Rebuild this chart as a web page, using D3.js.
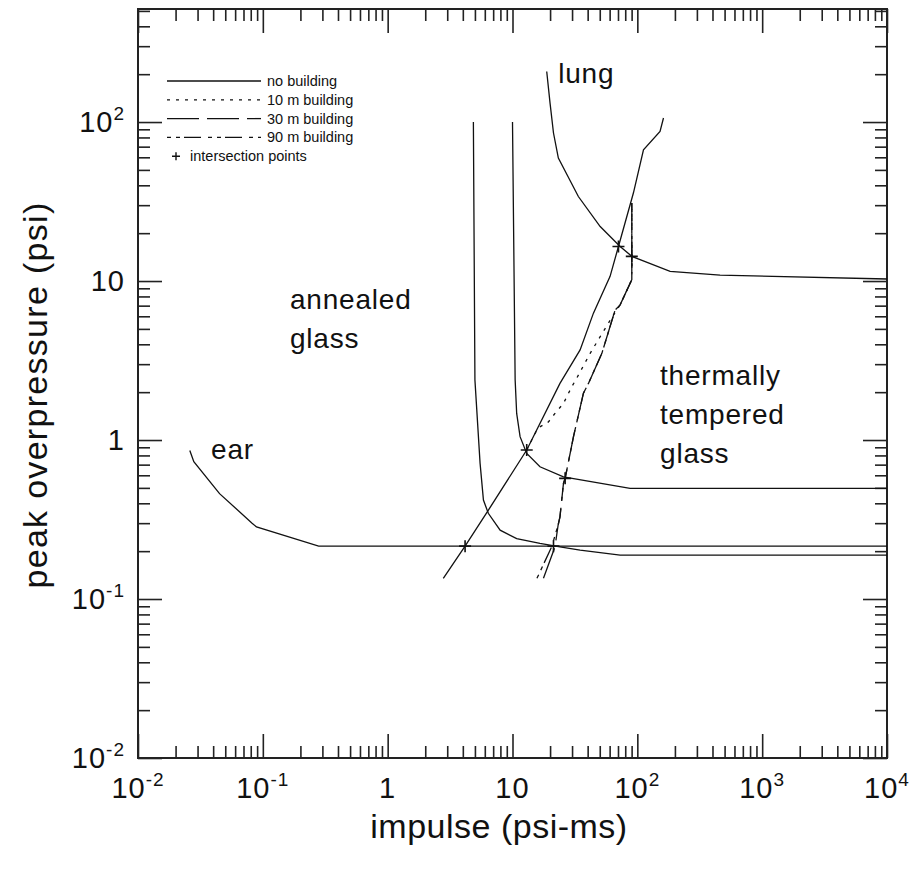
<!DOCTYPE html>
<html>
<head>
<meta charset="utf-8">
<script src="https://cdn.jsdelivr.net/npm/d3@7"></script>
<style>
  body { margin: 0; background: #fff; }
  svg { display: block; font-family: "Liberation Sans", Arial, Helvetica, sans-serif; }
</style>
</head>
<body>
<svg id="chart_svg"></svg>
<script>
// Values: impulse (psi-ms) and peak overpressure (psi)
const earImpulse = [0.026, 0.028, 0.045, 0.082, 0.089, 0.28, 1e4];
const earPressure = [0.86, 0.73, 0.46, 0.30, 0.284, 0.215, 0.215];

const annealedImpulse = [4.86, 5.0, 5.5, 5.85, 6.4, 7.96, 10.8, 16.6, 24.0, 34.8, 72.8, 1e4];
const annealedPressure = [100, 2.39, 0.713, 0.419, 0.346, 0.271, 0.240, 0.224, 0.213, 0.203, 0.189, 0.189];

const temperedImpulse = [10.0, 10.5, 10.8, 11.5, 13.0, 16.6, 25.6, 87.5, 1e4];
const temperedPressure = [100, 2.39, 1.47, 1.05, 0.824, 0.679, 0.587, 0.497, 0.497];

const lungImpulse = [18.8, 20.0, 21.3, 23.3, 33.7, 50.4, 72.8, 90.3, 183, 460, 1e4];
const lungPressure = [208, 131, 85.3, 59.3, 34.0, 22.0, 16.5, 14.3, 11.5, 10.9, 10.3];

const noBuildingImpulse = [2.79, 4.17, 6.41, 13.0, 24.0, 34.8, 44.5, 60.5, 70.6, 93.1, 112, 152, 162];
const noBuildingPressure = [0.135, 0.215, 0.362, 0.865, 2.27, 3.69, 6.28, 10.7, 16.5, 35.9, 66.9, 87.3, 106];

const building10Impulse = [13.0, 15.96, 19.4, 21.9, 25.6, 29.9, 32.7, 41.9, 50.4, 64.4, 72.8, 90.3, 90.3];
const building10Pressure = [0.865, 1.19, 1.30, 1.47, 1.70, 2.17, 2.45, 3.51, 4.47, 6.12, 7.08, 10.2, 31];

const building30Impulse = [17.7, 21.9, 23.2, 24.0, 25.6, 26.4, 30.8, 37.0, 40.6, 52.0, 66.4, 72.8, 90.3, 90.3];
const building30Pressure = [0.135, 0.213, 0.292, 0.329, 0.534, 0.574, 1.05, 1.97, 2.27, 3.51, 6.58, 7.08, 10.2, 31];

const building90Impulse = [15.7, 20.6, 23.2, 24.0, 25.6, 26.4, 30.8, 37.0, 40.6, 52.0, 66.4, 72.8, 90.3, 90.3];
const building90Pressure = [0.135, 0.213, 0.292, 0.329, 0.534, 0.574, 1.05, 1.97, 2.27, 3.51, 6.58, 7.08, 10.2, 31];

const crossImpulse = [4.17, 13.0, 21.3, 26.4, 70.6, 90.3];
const crossPressure = [0.215, 0.865, 0.215, 0.574, 16.5, 14.3];

const legendLabels = ['no building', '10 m building', '30 m building', '90 m building', 'intersection points'];

const annotationLines = [['ear'], ['annealed', 'glass'], ['thermally', 'tempered', 'glass'], ['lung']];
const annotationImpulse = [0.0385, 0.165, 152, 23.2];
const annotationPressure = [0.76, 6.68, 2.22, 177];

const xMajorTicks = [1e-2, 1e-1, 1, 10, 1e2, 1e3, 1e4];
const xTickLabels = ['10^-2', '10^-1', '1', '10', '10^2', '10^3', '10^4'];
const yMajorTicks = [1e-2, 1e-1, 1, 10, 1e2];
const yTickLabels = ['10^-2', '10^-1', '1', '10', '10^2'];
const yTop = 514;

// Layout
const margin = { top: 9, right: 26, bottom: 121, left: 138 };
const width = 913 - margin.left - margin.right;
const height = 879 - margin.top - margin.bottom;
const ink = '#111';
const dashStyles = [null, '3,6', '32,8', '4,5,4,4,17,7'];

const svg = d3.select('#chart_svg')
    .attr('width', width + margin.left + margin.right)
    .attr('height', height + margin.top + margin.bottom);

const g = svg.append('g')
    .attr('transform', `translate(${margin.left},${margin.top})`);

const x = d3.scaleLog().domain([xMajorTicks[0], xMajorTicks[xMajorTicks.length - 1]]).range([0, width]);
const y = d3.scaleLog().domain([yMajorTicks[0], yTop]).range([height, 0]);

const isDecade = v => Math.abs(Math.log10(v) - Math.round(Math.log10(v))) < 1e-9;
const xMinor = x.ticks().filter(v => !isDecade(v));
const yMinor = y.ticks().filter(v => !isDecade(v));

// inward ticks on all four sides
function addTicks(axis, values, size, transform) {
    g.append('g')
        .attr('transform', transform)
        .call(axis.tickValues(values).tickSize(-size).tickFormat(''))
        .call(a => a.select('.domain').remove())
        .call(a => a.selectAll('text').remove())
        .call(a => a.selectAll('line').attr('stroke', '#222').attr('stroke-width', 1.6));
}
[[xMinor, 12], [xMajorTicks, 24]].forEach(([vals, len]) => {
    addTicks(d3.axisBottom(x), vals, len, `translate(0,${height})`);
    addTicks(d3.axisTop(x), vals, len, 'translate(0,0)');
});
[[yMinor, 12], [yMajorTicks, 24]].forEach(([vals, len]) => {
    addTicks(d3.axisLeft(y), vals, len, 'translate(0,0)');
    addTicks(d3.axisRight(y), vals, len, `translate(${width},0)`);
});

g.append('rect')
    .attr('width', width)
    .attr('height', height)
    .attr('fill', 'none')
    .attr('stroke', '#222')
    .attr('stroke-width', 2);

// tick labels with superscript powers
function powerLabel(text, label) {
    const [base, exp] = label.split('^');
    text.append('tspan').text(base);
    if (exp) text.append('tspan').attr('dy', -12).style('font-size', '19px').text(exp);
}
xMajorTicks.forEach((v, i) => {
    const t = g.append('text')
        .attr('x', x(v))
        .attr('y', height + 40)
        .attr('text-anchor', 'middle')
        .style('font-size', '29px')
        .style('letter-spacing', '1px')
        .attr('fill', ink);
    powerLabel(t, xTickLabels[i]);
});
yMajorTicks.forEach((v, i) => {
    const t = g.append('text')
        .attr('x', -13)
        .attr('y', y(v) + 10)
        .attr('text-anchor', 'end')
        .style('font-size', '29px')
        .style('letter-spacing', '1px')
        .attr('fill', ink);
    powerLabel(t, yTickLabels[i]);
});

// axis titles
g.append('text')
    .attr('x', 361)
    .attr('y', height + 80)
    .attr('text-anchor', 'middle')
    .style('font-size', '34px')
    .style('letter-spacing', '0.5px')
    .attr('fill', ink)
    .text('impulse (psi-ms)');

g.append('text')
    .attr('transform', 'rotate(-90)')
    .attr('x', -386)
    .attr('y', 47 - margin.left)
    .attr('text-anchor', 'middle')
    .style('font-size', '34px')
    .style('letter-spacing', '1.3px')
    .attr('fill', ink)
    .text('peak overpressure (psi)');

// curves
const line = d3.line().x(d => x(d[0])).y(d => y(d[1]));
const curves = [
    { impulse: earImpulse, pressure: earPressure, style: 0 },
    { impulse: annealedImpulse, pressure: annealedPressure, style: 0 },
    { impulse: temperedImpulse, pressure: temperedPressure, style: 0 },
    { impulse: lungImpulse, pressure: lungPressure, style: 0 },
    { impulse: noBuildingImpulse, pressure: noBuildingPressure, style: 0 },
    { impulse: building10Impulse, pressure: building10Pressure, style: 1 },
    { impulse: building30Impulse, pressure: building30Pressure, style: 2 },
    { impulse: building90Impulse, pressure: building90Pressure, style: 3 }
];
curves.forEach(c => {
    g.append('path')
        .datum(d3.zip(c.impulse, c.pressure))
        .attr('fill', 'none')
        .attr('stroke', ink)
        .attr('stroke-width', 1.3)
        .attr('stroke-dasharray', dashStyles[c.style])
        .attr('d', line);
});

// intersection markers
const cross = s => `M${-s},0H${s}M0,${-s}V${s}`;
g.selectAll('.cross')
    .data(d3.zip(crossImpulse, crossPressure))
    .enter().append('path')
    .attr('class', 'cross')
    .attr('transform', d => `translate(${x(d[0])},${y(d[1])})`)
    .attr('d', cross(6))
    .attr('stroke', ink)
    .attr('stroke-width', 1.6);

// region labels
annotationLines.forEach((lines, i) => {
    const t = g.append('text')
        .attr('x', x(annotationImpulse[i]))
        .attr('y', y(annotationPressure[i]))
        .style('font-size', '28px')
        .style('letter-spacing', '0.8px')
        .attr('fill', ink);
    lines.forEach((s, j) => {
        t.append('tspan')
            .attr('x', x(annotationImpulse[i]))
            .attr('dy', j === 0 ? 0 : 39)
            .text(s);
    });
});

// legend
const legend = g.append('g').attr('transform', 'translate(29,72)');
legendLabels.forEach((label, i) => {
    const row = legend.append('g').attr('transform', `translate(0,${i * 18.8})`);
    if (i < 4) {
        row.append('line')
            .attr('x1', 0).attr('x2', 94)
            .attr('stroke', ink)
            .attr('stroke-width', 1.3)
            .attr('stroke-dasharray', dashStyles[i]);
    } else {
        row.append('path')
            .attr('transform', 'translate(9,0)')
            .attr('d', cross(4))
            .attr('stroke', ink)
            .attr('stroke-width', 1.4);
    }
    row.append('text')
        .attr('x', i < 4 ? 100 : 23)
        .attr('y', 5)
        .style('font-size', '14.5px')
        .attr('fill', ink)
        .text(label);
});
</script>
</body>
</html>
